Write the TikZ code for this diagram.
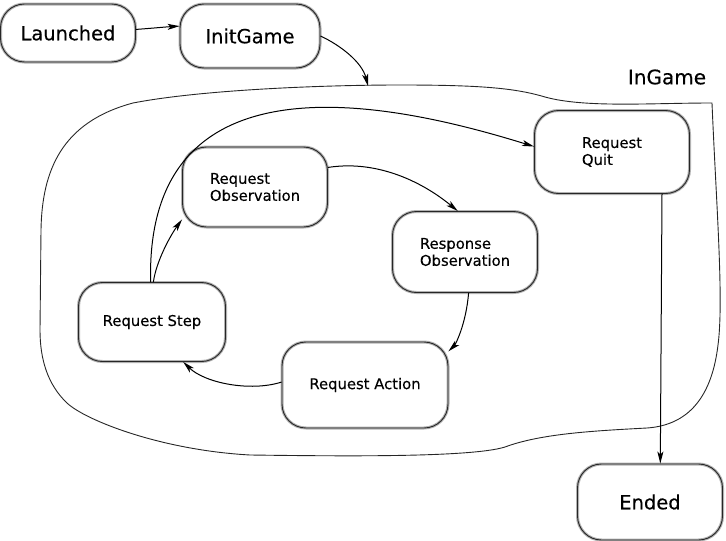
\documentclass[tikz,border=0pt]{standalone}
\usepackage{fontspec}
\setmainfont{DejaVu Sans}[FakeBold=0.3]
\usetikzlibrary{arrows.meta}

\tikzset{
	sketch/.style={draw=black!85, line width=0.9pt, rounded corners=24pt, preaction={draw=black!30, line width=3pt}},
	statebox/.style={sketch, minimum width=145pt, minimum height=80pt, align=left, font=\fontsize{14.8}{17}\selectfont},
	bigstate/.style={sketch, minimum width=138pt, minimum height=60pt, font=\fontsize{19.5}{22}\selectfont},
	flow/.style={line width=1pt, -{Stealth[length=12pt,width=6pt,inset=3pt]}}
}

\begin{document}
\begin{tikzpicture}[x=1pt, y=-1pt]
				\useasboundingbox (0,0) rectangle (726,541);
				\draw[line width=0.9pt, black!85] (40,330) -- (41,230) .. controls (42,170) and (62,122) .. (133,103)
					.. controls (200,90) and (320,85) .. (400,85) .. controls (480,85) and (515,88) .. (545,97)
					.. controls (585,108) and (650,103) .. (712,103) .. controls (716,200) and (724,300) .. (718,345)
					.. controls (712,395) and (690,425) .. (647,428) .. controls (590,431) and (540,434) .. (505,447)
					.. controls (470,458) and (330,456) .. (250,455) .. controls (160,450) and (85,420) .. (67,403)
					.. controls (48,385) and (40,360) .. cycle;
				\coordinate (ingametop) at (368,86);
				\node[bigstate, minimum width=135pt, minimum height=58pt] (launched) at (68,33) {Launched};
				\node[bigstate, minimum width=140pt, minimum height=64pt] (initgame) at (250,36) {InitGame};
				\node[font=\fontsize{20}{22}\selectfont] (ingame) at (667,77) {InGame};
				\node[statebox] (reqobs) at (255,187) {Request\\Observation};
				\node[statebox, minimum height=81pt] (resobs) at (465,252) {Response\\Observation};
				\node[statebox, minimum width=166pt, minimum height=86pt] (reqaction) at (365,385) {Request Action};
				\node[statebox, minimum width=147pt, minimum height=79pt] (reqstep) at (152,322) {Request Step};
				\node[statebox, minimum width=155pt, minimum height=83pt] (reqquit) at (612,152) {Request\\Quit};
				\node[bigstate, minimum width=145pt, minimum height=76pt] (ended) at (650,502) {Ended};
				\draw[flow] (launched.3) .. controls (155,28) and (165,27) .. (initgame.172);
				\draw[flow] (initgame.east) .. controls (340,45) and (362,62) .. (ingametop);
				\draw[flow] (reqstep.88) .. controls (156,262) and (170,236) .. (reqobs.204);
				\draw[flow] (reqstep.92) .. controls (145,45) and (400,105) .. (reqquit.176);
				\draw[flow] (reqobs.15) .. controls (375,160) and (420,180) .. (resobs.100);
				\draw[flow] (resobs.-85) .. controls (466,325) and (455,345) .. (reqaction.22);
				\draw[flow] (reqaction.178) .. controls (250,392) and (205,383) .. (reqstep.-52);
				\draw[flow] (reqquit.-40) -- (ended.75);
\end{tikzpicture}
\end{document}
